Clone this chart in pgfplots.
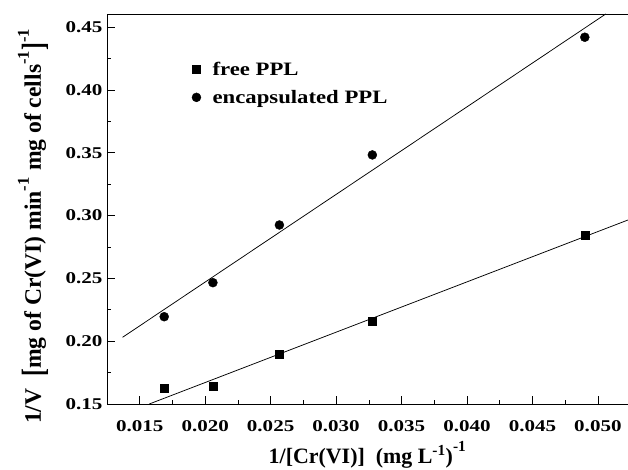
\documentclass[border=0pt]{standalone}
\usepackage{fontspec}
\setmainfont{Liberation Serif}
\newfontfamily\widefont{Liberation Serif}[FakeStretch=1.28]
\newfontfamily\legfont{Liberation Serif}[FakeStretch=1.2]
\usepackage{graphicx}
\usepackage{pgfplots}
\pgfplotsset{compat=1.18}

% Lineweaver-Burk data: free and encapsulated PPL
\begin{document}
\begin{tikzpicture}
\useasboundingbox (0,0) rectangle (628bp,470bp);
\begin{axis}[
  at={(107bp,66bp)}, anchor=south west,
  scale only axis, width=521bp, height=390bp,
  xmin=0.0125, xmax=0.0523,
  ymin=0.15, ymax=0.4605,
  axis x line=box, axis y line*=left,
  axis line style={-, line width=0.9pt},
  xtick pos=bottom, ytick pos=left,
  tick align=inside,
  major tick length=8bp, minor tick length=4bp,
  every tick/.style={black, line width=0.6pt},
  xtick={0.015,0.020,...,0.0501},
  ytick={0.15,0.20,...,0.451},
  minor x tick num=1, minor y tick num=1,
  scaled ticks=false,
  /pgf/number format/assume math mode=true,
  xticklabel style={/pgf/number format/.cd, fixed, fixed zerofill, precision=3},
  yticklabel style={/pgf/number format/.cd, fixed, fixed zerofill, precision=2},
  tick label style={font=\widefont\bfseries\fontsize{16.5}{16.5}\selectfont},
  xticklabel shift=13bp, yticklabel shift=1bp,
  xlabel={\bfseries 1/[Cr(VI)]\ \ (mg L\textsuperscript{-1})\raisebox{4pt}{\textsuperscript{-1}}},
  every axis x label/.style={at={(axis description cs:0.5,-0.131)}, anchor=center,
    font=\fontsize{22}{22}\selectfont},
  ylabel={\bfseries 1/V \ \raisebox{-3pt}{\scalebox{1}[1.35]{[}}mg of Cr(VI) min\raisebox{3pt}{\textsuperscript{-1}} mg of cells\raisebox{3pt}{\textsuperscript{-1}}\raisebox{-3pt}{\scalebox{1}[1.35]{]}}\raisebox{3pt}{\textsuperscript{-1}}},
  every axis y label/.style={at={(axis description cs:-0.142,0.456)}, anchor=center,
    rotate=90, font=\fontsize{23.7}{23.7}\selectfont},
  legend style={draw=none, fill=none, at={(0.152,0.887)}, anchor=north west,
    font=\legfont\bfseries\fontsize{19}{19}\selectfont, row sep=9bp,
    legend cell align=left},
  legend image code/.code={\draw[#1] plot coordinates {(0.25cm,0cm)};
    \path[draw=none, fill=none] (0cm,0cm) -- (0.75cm,0cm);},
]
\addplot[only marks, mark=square*, mark size=4bp, black] coordinates {
  (0.01687,0.1625) (0.02059,0.1643) (0.02567,0.1896) (0.03277,0.2163) (0.0490,0.2846)
};
\addlegendentry{free PPL}
\addplot[only marks, mark=*, mark size=4.5bp, black] coordinates {
  (0.01687,0.2195) (0.02059,0.2466) (0.02567,0.2925) (0.03277,0.3483) (0.0490,0.4420)
};
\addlegendentry{encapsulated PPL}
% linear fits
\addplot[black, line width=0.75pt, forget plot] coordinates {(0.01573,0.15) (0.0523,0.2965)};
\addplot[black, line width=0.75pt, forget plot] coordinates {(0.01369,0.2031) (0.0506,0.4605)};
\end{axis}
\end{tikzpicture}
\end{document}
